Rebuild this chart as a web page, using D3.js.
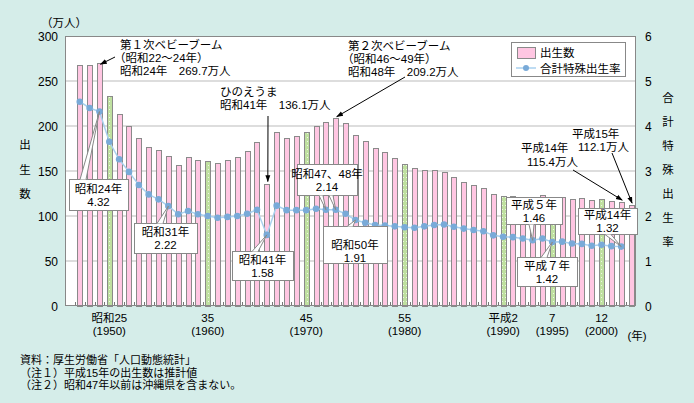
<!DOCTYPE html>
<html><head><meta charset="utf-8">
<script src="https://cdn.jsdelivr.net/npm/d3@7"></script>
<style>
html,body{margin:0;padding:0;background:#d5ede9;}
svg{display:block;font-family:"Liberation Sans","Noto Sans CJK JP",sans-serif;font-size:11.5px;}
</style></head><body>
<script>
// ---- data ----
const years = d3.range(1947, 2004);
const births = [267.9,268.2,269.7,233.8,213.8,200.5,186.8,177.0,173.1,166.5,156.7,165.3,162.6,160.6,158.9,161.9,166.0,171.7,182.4,136.1,193.6,187.2,188.9,193.4,200.1,203.9,209.2,203.0,190.1,183.3,175.5,170.9,164.3,157.7,152.9,151.5,150.9,149.0,143.2,138.3,134.7,131.4,124.7,122.2,122.3,120.9,118.8,123.8,118.7,120.7,119.2,120.3,117.8,119.1,117.1,115.4,112.1];
const tfr = [4.54,4.40,4.32,3.65,3.26,2.98,2.69,2.48,2.37,2.22,2.04,2.11,2.04,2.00,1.96,1.98,2.00,2.05,2.14,1.58,2.23,2.13,2.13,2.13,2.16,2.14,2.14,2.05,1.91,1.85,1.80,1.79,1.77,1.75,1.74,1.77,1.80,1.81,1.76,1.72,1.69,1.66,1.57,1.54,1.53,1.50,1.46,1.50,1.42,1.43,1.39,1.38,1.34,1.36,1.33,1.32,null];
const highlightYears = [1950,1960,1970,1980,1990,1995,2000];
const leftTicks = [0,50,100,150,200,250,300];
const rightTicks = [0,1,2,3,4,5,6];
const xTickYears = [1950,1960,1970,1980,1990,1995,2000];
const xTickLabels = ["昭和25","35","45","55","平成2","7","12"];
const xTickLabels2 = ["(1950)","(1960)","(1970)","(1980)","(1990)","(1995)","(2000)"];

const W=694,H=403;
const L=65,R=636,T=36,B=306;
const svg=d3.select("body").append("svg").attr("width",W).attr("height",H);
svg.append("rect").attr("width",W).attr("height",H).attr("fill","#d5ede9");

const defs=svg.append("defs");
const pat=defs.append("pattern").attr("id","dots").attr("patternUnits","userSpaceOnUse").attr("width",3).attr("height",4);
pat.append("rect").attr("width",3).attr("height",4).attr("fill","#bfe0a0");
pat.append("rect").attr("x",1).attr("y",1).attr("width",1).attr("height",1).attr("fill","#eef8e6");
defs.append("marker").attr("id","arr").attr("viewBox","0 0 10 10").attr("refX",9).attr("refY",5)
  .attr("markerWidth",7).attr("markerHeight",7).attr("orient","auto")
  .append("path").attr("d","M0,1.5L10,5L0,8.5Z").attr("fill","#000");

const x=d3.scaleLinear().domain([1945.5,2003.5]).range([L,R]);
const yL=d3.scaleLinear().domain([0,300]).range([B,T]);
const yR=d3.scaleLinear().domain([0,6]).range([B,T]);

// plot area
svg.append("rect").attr("x",L).attr("y",T).attr("width",R-L).attr("height",B-T).attr("fill","#fff");
svg.append("g").selectAll("line").data(leftTicks.filter(d=>d>0&&d<300)).join("line")
  .attr("x1",L).attr("x2",R).attr("y1",d=>yL(d)).attr("y2",d=>yL(d)).attr("stroke","#bbb");

// bars
const bw=5;
svg.append("g").selectAll("rect").data(years.map((y,i)=>({y,v:births[i]}))).join("rect")
  .attr("x",d=>Math.round(x(d.y)-bw/2)+0.5).attr("width",bw)
  .attr("y",d=>Math.round(yL(d.v))+0.5).attr("height",d=>B-Math.round(yL(d.v)))
  .attr("fill",d=>highlightYears.includes(d.y)?"url(#dots)":"#ffc6e2")
  .attr("stroke","#8a8a8a").attr("stroke-width",1);

// bottom ticks
svg.append("g").selectAll("line").data(d3.range(1946,2004)).join("line")
  .attr("x1",d=>Math.round(x(d-0.5))+0.5).attr("x2",d=>Math.round(x(d-0.5))+0.5)
  .attr("y1",B).attr("y2",B-4).attr("stroke","#777");

// frame
svg.append("rect").attr("x",L+0.5).attr("y",T+0.5).attr("width",R-L-1).attr("height",B-T-1)
  .attr("fill","none").attr("stroke","#888");

// line
const pts=years.map((y,i)=>({y,v:tfr[i]})).filter(d=>d.v!=null);
svg.append("path").datum(pts).attr("fill","none").attr("stroke","#a9d1ef").attr("stroke-width",1.5)
  .attr("d",d3.line().x(d=>x(d.y)).y(d=>yR(d.v)));
svg.append("g").selectAll("circle").data(pts).join("circle")
  .attr("cx",d=>x(d.y)).attr("cy",d=>yR(d.v)).attr("r",3.3).attr("fill","#79aad8");

// multi-line text helper
function mtext(parent,xs,y0,dy,arr,anchor,fs){
  const t=parent.append("text").attr("text-anchor",anchor||"start");
  if(fs) t.attr("font-size",fs);
  arr.forEach((s,i)=>t.append("tspan").attr("x",xs[i]).attr("y",y0+i*dy).text(s));
  return t;
}

// axes labels
svg.append("g").selectAll("text").data(leftTicks).join("text")
  .attr("x",58).attr("y",d=>yL(d)+4.5).attr("text-anchor","end").attr("font-size",12).text(d=>d);
svg.append("g").selectAll("text").data(rightTicks).join("text")
  .attr("x",645).attr("y",d=>yR(d)+4.5).attr("text-anchor","start").attr("font-size",12).text(d=>d);
svg.append("text").attr("x",87).attr("y",27).attr("text-anchor","end").text("（万人）");
const xl=svg.append("g");
xTickYears.forEach((yr,i)=>{
  mtext(xl,[x(yr),x(yr)],322,13,[xTickLabels[i],xTickLabels2[i]],"middle");
});
svg.append("text").attr("x",637).attr("y",340).attr("text-anchor","middle").text("(年)");
mtext(svg,[25,25,25],149,24.5,["出","生","数"],"middle");
mtext(svg,[668,668,668,668,668,668,668],102,24,["合","計","特","殊","出","生","率"],"middle");

// legend
const lg=svg.append("g");
lg.append("rect").attr("x",511.5).attr("y",42.5).attr("width",114).attr("height",34).attr("fill","#fff").attr("stroke","#888");
lg.append("rect").attr("x",517.5).attr("y",47.5).attr("width",18).attr("height",11).attr("fill","#ffc6e2").attr("stroke","#8a8a8a");
lg.append("text").attr("x",540).attr("y",57).text("出生数");
lg.append("line").attr("x1",516).attr("x2",536).attr("y1",68).attr("y2",68).attr("stroke","#a9d1ef").attr("stroke-width",1.5);
lg.append("circle").attr("cx",526).attr("cy",68).attr("r",3).attr("fill","#79aad8");
lg.append("text").attr("x",540).attr("y",73).text("合計特殊出生率");

// text annotations with arrows
function arrow(x1,y1,x2,y2){svg.append("line").attr("x1",x1).attr("y1",y1).attr("x2",x2).attr("y2",y2)
  .attr("stroke","#000").attr("stroke-width",1).attr("marker-end","url(#arr)");}
const bi=y=>births[years.indexOf(y)], ti=y=>tfr[years.indexOf(y)];
mtext(svg,[120,114,120],49,13,["第１次ベビーブーム","（昭和22～24年）","昭和24年　269.7万人"]);
arrow(115,57,x(1949)+1,yL(bi(1949))+1);
mtext(svg,[220,220],96,13,["ひのえうま","昭和41年　136.1万人"]);
arrow(268,116,x(1966)+1,yL(bi(1966))-2);
mtext(svg,[348,342,348],50,13,["第２次ベビーブーム","（昭和46～49年）","昭和48年　209.2万人"]);
arrow(405,77,x(1973)+1,yL(bi(1973))-1);
mtext(svg,[572,578],138,13,["平成15年","112.1万人"]);
arrow(612,153,x(2003)+1,yL(bi(2003))-2);
mtext(svg,[521,527],151.5,14,["平成14年","115.4万人"]);
arrow(573,170,x(2002)+1,yL(bi(2002))-2);

// callouts
function callout(bx,by,bwid,bh,t1,t2,ptrs,off){
  const g=svg.append("g");
  g.append("rect").attr("x",bx+0.5).attr("y",by+0.5).attr("width",bwid).attr("height",bh).attr("fill","#fff").attr("stroke","#888");
  ptrs.forEach(p=>{
    const [a,b,edge,yr]=p; const ey=edge==="top"?by+0.5:by+bh+0.5;
    const tx=x(yr), ty=yR(ti(yr));
    g.append("path").attr("d",`M${a},${ey}L${tx},${ty}L${b},${ey}Z`).attr("fill","#fff");
    g.append("path").attr("d",`M${a},${ey}L${tx},${ty}L${b},${ey}`).attr("fill","none").attr("stroke","#888");
  });
  const cx=bx+bwid/2, y0=(off!=null?by+off:by+bh/2-2);
  mtext(g,[cx,cx],y0,13,[t1,t2],"middle");
}
callout(69,179,59,31,"昭和24年",ti(1949).toFixed(2),[[80,86,"top",1949]]);
callout(134,223,63,30,"昭和31年",ti(1956).toFixed(2),[[157,163,"top",1956]]);
callout(232,251,61,29,"昭和41年",ti(1966).toFixed(2),[[252,258,"top",1966]]);
callout(297,164,60,31,"昭和47、48年",ti(1972).toFixed(2),[[319,323,"bottom",1972],[329,333,"bottom",1973]]);
callout(323,226,64,37,"昭和50年",ti(1975).toFixed(2),[[347,353,"top",1975]],23);
callout(506,197,56,27,"平成５年",ti(1993).toFixed(2),[[529,534,"bottom",1993]]);
callout(517,257,60,29,"平成７年",ti(1995).toFixed(2),[[541,547,"top",1995]]);
callout(578,208,59,26,"平成14年",ti(2002).toFixed(2),[[605,611,"bottom",2002]]);

// footnotes
mtext(svg,[20,20,20],364,12.5,["資料：厚生労働省「人口動態統計」","（注１）平成15年の出生数は推計値","（注２）昭和47年以前は沖縄県を含まない。"],"start",11);
</script></body></html>
